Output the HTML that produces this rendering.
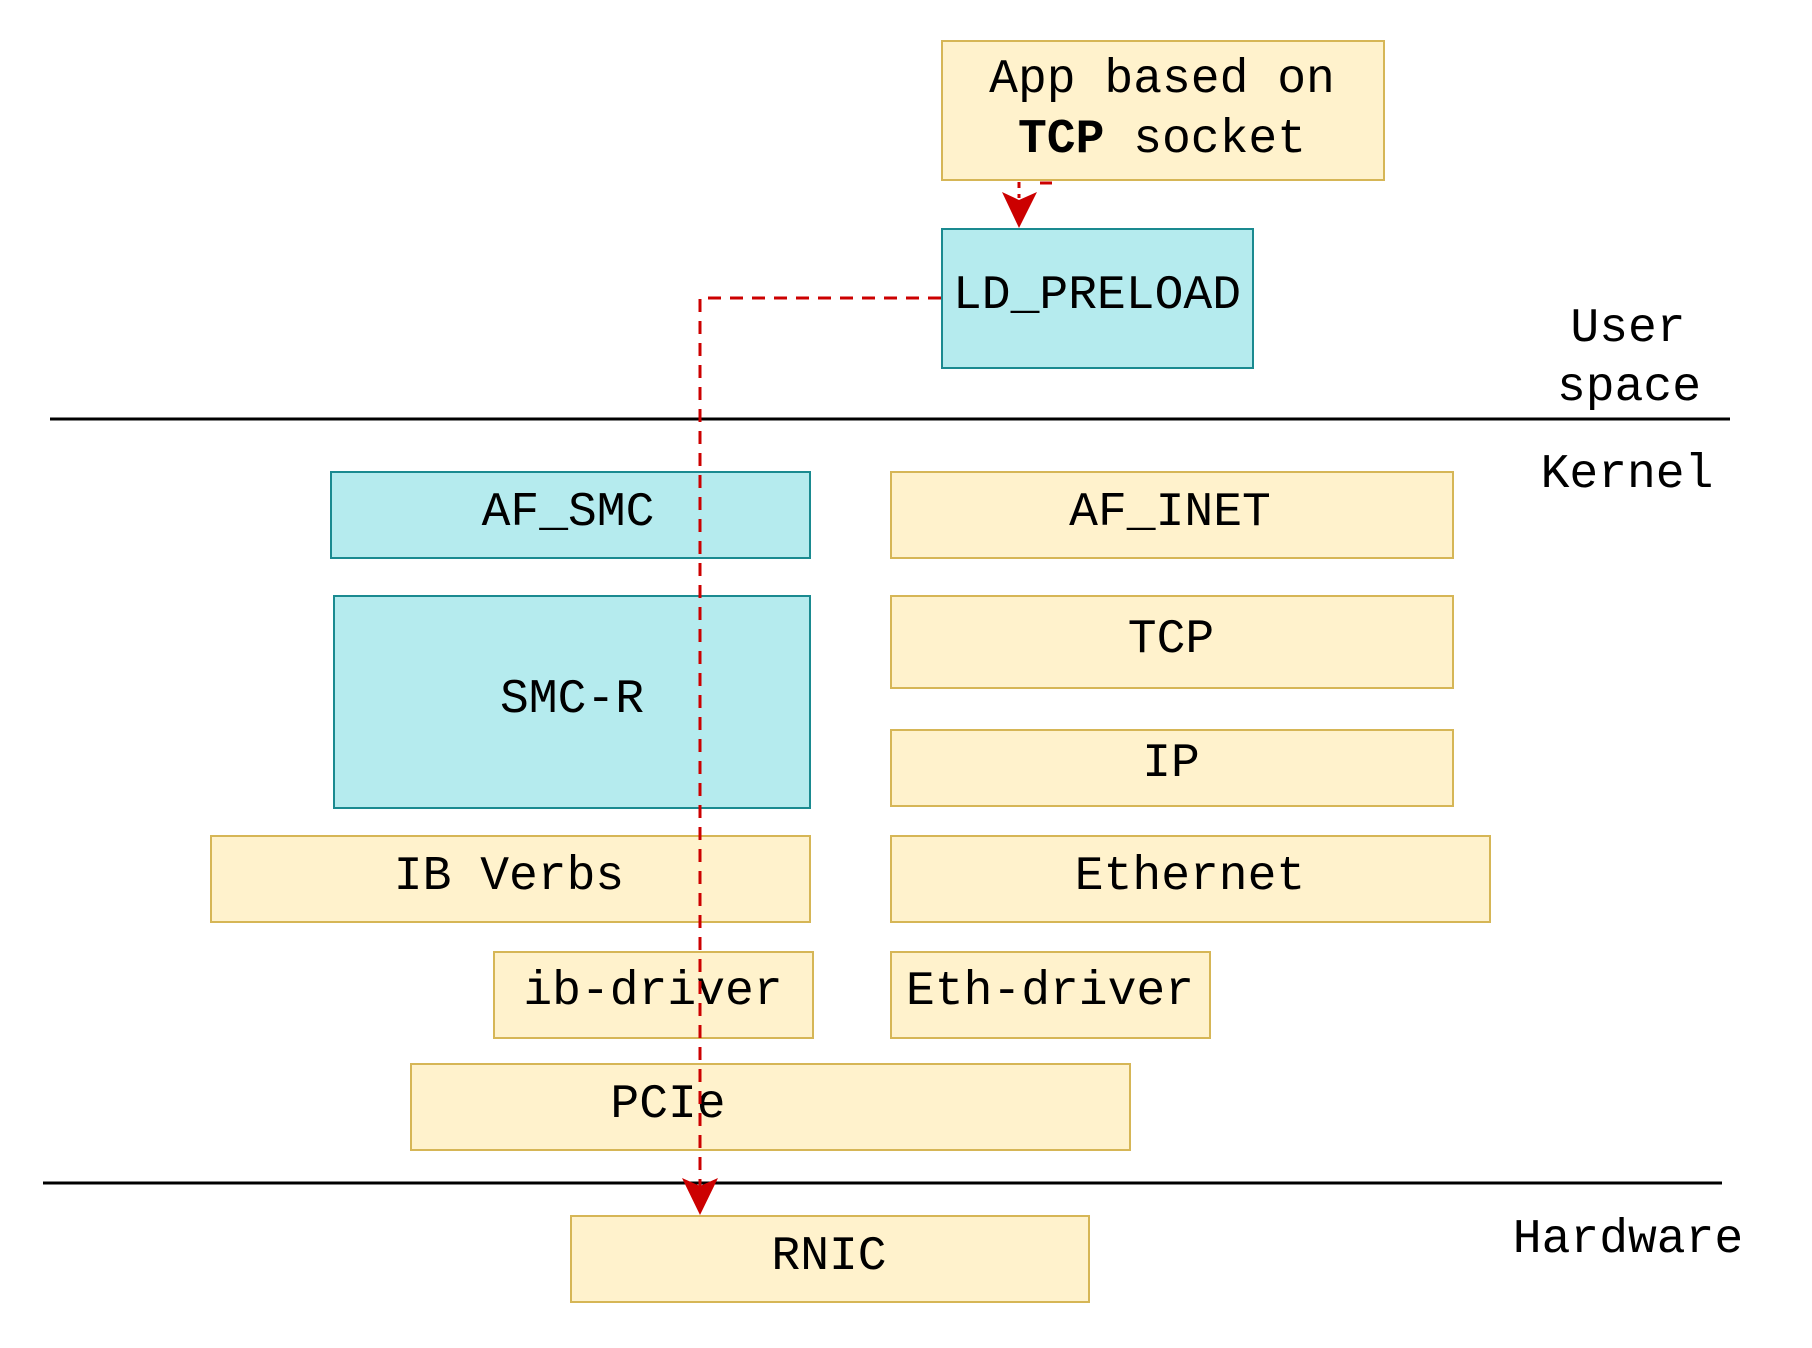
<!DOCTYPE html>
<html>
<head>
<meta charset="utf-8">
<style>
  html, body { margin: 0; padding: 0; background: #ffffff; }
  body { width: 1812px; height: 1348px; overflow: hidden; }
  svg { display: block; }
  text { font-family: "Liberation Mono", "DejaVu Sans Mono", monospace; font-size: 48px; fill: #000; }
</style>
</head>
<body>
<svg width="1812" height="1348" viewBox="0 0 1812 1348" xmlns="http://www.w3.org/2000/svg">
  <rect x="0" y="0" width="1812" height="1348" fill="#ffffff"/>

  <!-- separator lines -->
  <line x1="50" y1="419" x2="1730" y2="419" stroke="#000" stroke-width="3"/>
  <line x1="43" y1="1183" x2="1722" y2="1183" stroke="#000" stroke-width="3"/>

  <!-- boxes -->
  <g stroke-width="2">
    <rect x="942" y="41" width="442" height="139" fill="#fff2cc" stroke="#d6b656"/>
    <rect x="942" y="229" width="311" height="139" fill="#b5ebee" stroke="#1a8a90"/>

    <rect x="331" y="472" width="479" height="86" fill="#b5ebee" stroke="#1a8a90"/>
    <rect x="334" y="596" width="476" height="212" fill="#b5ebee" stroke="#1a8a90"/>

    <rect x="891" y="472" width="562" height="86" fill="#fff2cc" stroke="#d6b656"/>
    <rect x="891" y="596" width="562" height="92" fill="#fff2cc" stroke="#d6b656"/>
    <rect x="891" y="730" width="562" height="76" fill="#fff2cc" stroke="#d6b656"/>

    <rect x="211" y="836" width="599" height="86" fill="#fff2cc" stroke="#d6b656"/>
    <rect x="891" y="836" width="599" height="86" fill="#fff2cc" stroke="#d6b656"/>

    <rect x="494" y="952" width="319" height="86" fill="#fff2cc" stroke="#d6b656"/>
    <rect x="891" y="952" width="319" height="86" fill="#fff2cc" stroke="#d6b656"/>

    <rect x="411" y="1064" width="719" height="86" fill="#fff2cc" stroke="#d6b656"/>

    <rect x="571" y="1216" width="518" height="86" fill="#fff2cc" stroke="#d6b656"/>
  </g>

  <!-- box labels -->
  <g text-anchor="middle">
    <text x="1162" y="92">App based on</text>
    <text x="1162" y="152"><tspan font-weight="bold">TCP</tspan> socket</text>
    <text x="1097" y="308">LD_PRELOAD</text>

    <text x="568" y="525">AF_SMC</text>
    <text x="572" y="712">SMC-R</text>

    <text x="1170" y="525">AF_INET</text>
    <text x="1171" y="652">TCP</text>
    <text x="1171" y="776">IP</text>

    <text x="509" y="889">IB Verbs</text>
    <text x="1190" y="889">Ethernet</text>

    <text x="653" y="1004">ib-driver</text>
    <text x="1050" y="1004">Eth-driver</text>

    <text x="668" y="1117">PCIe</text>
    <text x="829" y="1269">RNIC</text>
  </g>

  <!-- side labels -->
  <g text-anchor="middle">
    <text x="1628" y="341">User</text>
    <text x="1629" y="400">space</text>
    <text x="1627" y="487">Kernel</text>
    <text x="1628" y="1252">Hardware</text>
  </g>

  <!-- red dashed connectors -->
  <g fill="none" stroke="#cc0000" stroke-width="3">
    <line x1="1019" y1="182" x2="1019" y2="198" stroke-dasharray="6 6"/>
    <line x1="1040" y1="183" x2="1052" y2="183"/>
    <path d="M 941 298 L 700 298 L 700 1190" stroke-dasharray="13 9"/>
  </g>

  <!-- arrowheads -->
  <path d="M 1019 228 L 1002 192 L 1019 200 L 1037 192 Z" fill="#cc0000"/>
  <path d="M 700 1215 L 682 1178 L 700 1186 L 718 1178 Z" fill="#cc0000"/>
</svg>
</body>
</html>
